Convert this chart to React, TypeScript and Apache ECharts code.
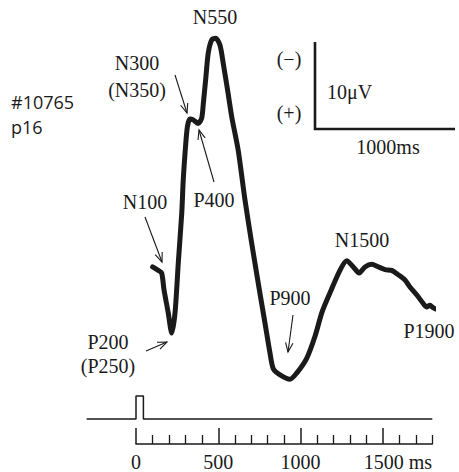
import React, { useEffect, useRef } from "react";
import * as echarts from "echarts";

// ERP waveform (time in ms, amplitude in µV, negative plotted up)
const times = [101,135,156,170,196,217,237,257,278,287,298,312,328,348,378,399,409,425,439,460,484,510,530,559,583,621,662,703,743,784,814,834,875,935,976,1037,1087,1130,1178,1239,1280,1320,1356,1391,1432,1472,1513,1553,1593,1634,1664,1705,1745,1766,1786,1806,1836,1857];
const amps = [-3.8,-3.4,-3.1,-1.2,1.5,3.8,1.5,-4.3,-10.0,-13.8,-16.9,-19.9,-20.8,-20.7,-20.3,-20.9,-22.6,-25.7,-28.4,-29.9,-30.1,-29.3,-27.2,-23.8,-20.9,-17.2,-11.5,-6.5,-1.9,2.7,6.1,7.9,8.6,9.1,8.4,6.7,4.2,1.4,-0.8,-3.4,-4.5,-3.8,-3.1,-3.8,-4.1,-3.8,-3.5,-3.4,-2.9,-2.3,-1.5,-0.6,0.4,0.8,0.6,0.9,1.1,1.0];

// stimulus trace
const stimTimes = [-300, 0, 0, 45, 45, 1800];
const stimLevels = [0, 0, 1, 1, 0, 0];

// time axis ticks
const majorTicks = [0, 500, 1000, 1500];
const minorTicks = [100,200,300,400,600,700,800,900,1100,1200,1300,1400,1600,1700,1800];

const SERIF = "'Liberation Serif', 'Times New Roman', serif";
const INK = "#1a1a1a";

function arrow(x1: number, y1: number, x2: number, y2: number) {
  const ang = Math.atan2(y2 - y1, x2 - x1);
  const L = 10, a = 0.38;
  const p1 = [x2 - L * Math.cos(ang - a), y2 - L * Math.sin(ang - a)];
  const p2 = [x2 - L * Math.cos(ang + a), y2 - L * Math.sin(ang + a)];
  return [
    { type: "line", shape: { x1, y1, x2, y2 }, style: { stroke: INK, lineWidth: 1.1 } },
    { type: "polyline", shape: { points: [p1, [x2, y2], p2] }, style: { stroke: INK, lineWidth: 1.1, fill: null } },
  ];
}

function label(text: string, x: number, y: number, opts: any = {}) {
  return {
    type: "text",
    x, y,
    style: {
      text,
      fontSize: opts.fontSize || 20,
      fontFamily: opts.fontFamily || SERIF,
      fill: INK,
      align: opts.align || "center",
      verticalAlign: "middle",
    },
  };
}

export default function App() {
  const ref = useRef<HTMLDivElement>(null);
  useEffect(() => {
    if (!ref.current) return;
    const chart = echarts.init(ref.current, null, { renderer: "svg" });
    const gridLeft = 136;
    const gridRight = 26.7;
    const pxPerMs = (459 - gridLeft - gridRight) / 1800;
    const stimLeft = gridLeft + stimTimes[0] * pxPerMs;
    const option: any = {
      animation: false,
      backgroundColor: "#ffffff",
      grid: [
        { left: gridLeft, right: gridRight, top: 21.6, bottom: 67.6 },
        // time axis grid
        { left: gridLeft, right: gridRight, top: 396, bottom: 30 },
        // stimulus grid (starts before 0 ms): level 1 at y=396, level 0 at y=419
        { left: stimLeft, right: gridRight, top: 396, bottom: 30 },
      ],
      xAxis: [
        { gridIndex: 0, type: "value", min: 0, max: 1800, show: false },
        {
          gridIndex: 1, type: "value", min: 0, max: 1800, position: "bottom", offset: 3.7,
          splitLine: { show: false },
          axisLine: { show: true, onZero: false, lineStyle: { color: INK, width: 1.5 } },
          axisTick: { show: true, inside: true, length: 16, lineStyle: { color: INK, width: 1.5 }, customValues: majorTicks },
          axisLabel: {
            show: true, margin: 8, color: INK, fontSize: 20, fontFamily: SERIF,
            customValues: majorTicks,
            formatter: (v: number) => (v === 1500 ? "{sp|}{n|1500 ms}" : "{n|" + v + "}"),
            rich: { sp: { width: 30, fontSize: 20, fontFamily: SERIF }, n: { fontSize: 20, fontFamily: SERIF, color: INK } },
          },
        },
        {
          gridIndex: 1, type: "value", min: 0, max: 1800, position: "bottom", offset: 3.7,
          splitLine: { show: false },
          axisLine: { show: false, onZero: false },
          axisTick: { show: true, inside: true, length: 9, lineStyle: { color: INK, width: 1.3 }, customValues: minorTicks },
          axisLabel: { show: false },
        },
        { gridIndex: 2, type: "value", min: stimTimes[0], max: 1800, show: false },
      ],
      yAxis: [
        { gridIndex: 0, type: "value", inverse: true, min: -32, max: 12, show: false },
        { gridIndex: 1, type: "value", min: -1, max: 1, show: false },
        { gridIndex: 2, type: "value", min: -1, max: 1, show: false },
      ],
      series: [
        {
          type: "line",
          xAxisIndex: 0, yAxisIndex: 0,
          data: times.map((t, i) => [t, amps[i]]),
          showSymbol: false,
          symbol: "none",
          smooth: 0.25,
          clip: false,
          lineStyle: { color: INK, width: 5, cap: "round", join: "round" },
        },
        {
          type: "line",
          xAxisIndex: 3, yAxisIndex: 2,
          data: stimTimes.map((t, i) => [t, stimLevels[i]]),
          showSymbol: false,
          symbol: "none",
          clip: false,
          lineStyle: { color: INK, width: 1.5 },
        },
      ],
      graphic: [
        // scale bar
        { type: "polyline", shape: { points: [[315, 42], [315, 129], [455, 129]] }, style: { stroke: INK, lineWidth: 2.6, fill: null } },
        label("(−)", 289, 59),
        label("(+)", 289, 113),
        label("10μV", 327, 92, { align: "left" }),
        label("1000ms", 388, 147),
        // id labels
        label("#10765", 11, 102, { align: "left", fontSize: 18, fontFamily: "'Open Sans', sans-serif" }),
        label("p16", 11, 127, { align: "left", fontSize: 18, fontFamily: "'Open Sans', sans-serif" }),
        // component labels
        label("N550", 215, 17),
        label("N300", 137, 63),
        label("(N350)", 137, 90),
        label("N100", 145, 202),
        label("P400", 214, 200),
        label("P200", 108, 342),
        label("(P250)", 108, 366),
        label("P900", 290, 298),
        label("N1500", 362, 240),
        label("P1900", 429, 331),
        ...arrow(175, 75, 187, 113),
        ...arrow(214, 182, 199, 130),
        ...arrow(145, 217, 162, 262),
        ...arrow(146, 351, 167, 342),
        ...arrow(293, 315, 288, 352),
      ],
    };
    chart.setOption(option);
    return () => chart.dispose();
  }, []);
  return <div ref={ref} style={{ position: "fixed", left: 0, top: 0, width: 459, height: 472 }} />;
}
